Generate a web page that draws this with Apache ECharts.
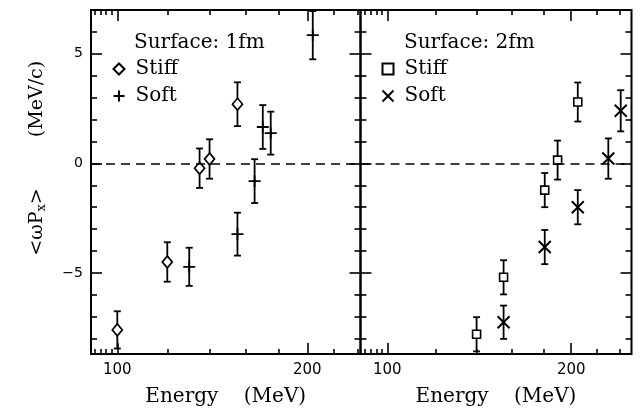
<!DOCTYPE html>
<html>
<head>
<meta charset="utf-8">
<script src="https://cdn.jsdelivr.net/npm/echarts@6/dist/echarts.min.js"></script>
<style>
html,body{margin:0;padding:0;background:#fff;}
#chart{width:642px;height:413px;}
</style>
</head>
<body>
<div id="chart"></div>
<script>
// ---- data: Surface 1fm (left panel) ----
const stiff1X   = [100, 120, 135, 140, 155];
const stiff1Y   = [-7.6, -4.5, -0.22, 0.2, 2.7];
const stiff1Err = [0.85, 0.9, 0.9, 0.9, 1.0];

const soft1X    = [130, 155, 165, 170, 175, 204];
const soft1Y    = [-4.72, -3.23, -0.81, 1.66, 1.38, 5.85];
const soft1Err  = [0.87, 0.98, 1.0, 1.0, 0.98, 1.1];

// ---- data: Surface 2fm (right panel) ----
const stiff2X   = [140, 155, 181, 190, 205];
const stiff2Y   = [-7.8, -5.2, -1.22, 0.15, 2.8];
const stiff2Err = [0.78, 0.78, 0.78, 0.89, 0.89];

const soft2X    = [155, 181, 205, 230, 241];
const soft2Y    = [-7.25, -3.82, -2.0, 0.22, 2.4];
const soft2Err  = [0.76, 0.78, 0.78, 0.92, 0.94];

// ---- axes ----
const xMajorTicks = [100, 200];
const xMinorTicks = [90, 92, 94, 96, 98, 120, 140, 160, 180, 220, 240];
const yMajorTicks = [-5, 0, 5];
const yMinorTicks = [-8, -7, -6, -4, -3, -2, -1, 1, 2, 3, 4, 6];
const xRanges = [[90.85, 242.8], [90.4, 251]];
const yRange = [-8.7, 7.0];

const panelTitles = ['Surface: 1fm', 'Surface: 2fm'];
const xName = 'Energy    (MeV)';

const chart = echarts.init(document.getElementById('chart'), null, {renderer: 'canvas'});

const tickLine = {color: '#000', width: 1.6};
const grids = [
  {left: 91, top: 10, width: 269.5, height: 344, show: true, borderColor: '#000', borderWidth: 2, backgroundColor: 'transparent'},
  {left: 360.5, top: 10, width: 271, height: 344, show: true, borderColor: '#000', borderWidth: 2, backgroundColor: 'transparent'}
];

const xAxes = [];
const yAxes = [];
[0, 1].forEach(g => {
  const [mn, mx] = xRanges[g];
  const base = {type: 'log', logBase: 10, gridIndex: g, min: mn, max: mx,
    axisLine: {show: false, onZero: false}, splitLine: {show: false}, axisPointer: {show: false}};
  xAxes.push(Object.assign({}, base, {
    position: 'bottom',
    axisTick: {show: true, inside: true, length: 5, customValues: xMinorTicks, lineStyle: tickLine},
    axisLabel: {show: true, customValues: xMajorTicks, margin: 9, fontFamily: 'DejaVu Sans', fontSize: 15, color: '#000',
      formatter: v => String(Math.round(v))},
    name: xName, nameLocation: 'middle', nameGap: 33,
    nameTextStyle: {fontFamily: 'DejaVu Serif', fontSize: 20, color: '#000'}
  }));
  xAxes.push(Object.assign({}, base, {
    position: 'bottom',
    axisTick: {show: true, inside: true, length: 11, customValues: xMajorTicks, lineStyle: tickLine},
    axisLabel: {show: false}
  }));
  xAxes.push(Object.assign({}, base, {
    position: 'top',
    axisTick: {show: true, inside: true, length: 5, customValues: xMinorTicks, lineStyle: tickLine},
    axisLabel: {show: false}
  }));
  xAxes.push(Object.assign({}, base, {
    position: 'top',
    axisTick: {show: true, inside: true, length: 11, customValues: xMajorTicks, lineStyle: tickLine},
    axisLabel: {show: false}
  }));

  const ybase = {type: 'value', gridIndex: g, min: yRange[0], max: yRange[1],
    axisLine: {show: false, onZero: false}, splitLine: {show: false}, axisPointer: {show: false}};
  yAxes.push(Object.assign({}, ybase, {
    position: 'left',
    axisTick: {show: true, inside: true, length: 11, customValues: yMajorTicks, lineStyle: tickLine},
    axisLabel: {show: g === 0, customValues: yMajorTicks, margin: 8, fontFamily: 'DejaVu Sans', fontSize: 14, color: '#000',
      formatter: v => (v < 0 ? '\u2212' + (-v) : String(v))}
  }));
  yAxes.push(Object.assign({}, ybase, {
    position: 'left',
    axisTick: {show: true, inside: true, length: 6, customValues: yMinorTicks, lineStyle: tickLine},
    axisLabel: {show: false}
  }));
  yAxes.push(Object.assign({}, ybase, {
    position: 'right',
    axisTick: {show: true, inside: true, length: 11, customValues: yMajorTicks, lineStyle: tickLine},
    axisLabel: {show: false}
  }));
  yAxes.push(Object.assign({}, ybase, {
    position: 'right',
    axisTick: {show: true, inside: true, length: 6, customValues: yMinorTicks, lineStyle: tickLine},
    axisLabel: {show: false}
  }));
});

function errRender(params, api) {
  const x = api.value(0), y = api.value(1), e = api.value(2);
  const top = api.coord([x, y + e]);
  const bot = api.coord([x, y - e]);
  const w = 3.5;
  const style = {stroke: '#000', lineWidth: 1.8, fill: null};
  return {type: 'group', children: [
    {type: 'line', shape: {x1: top[0], y1: top[1], x2: bot[0], y2: bot[1]}, style: style},
    {type: 'line', shape: {x1: top[0] - w, y1: top[1], x2: top[0] + w, y2: top[1]}, style: style},
    {type: 'line', shape: {x1: bot[0] - w, y1: bot[1], x2: bot[0] + w, y2: bot[1]}, style: style}
  ]};
}

function zip3(a, b, c) { return a.map((v, i) => [v, b[i], c[i]]); }
function zip2(a, b) { return a.map((v, i) => [v, b[i]]); }

const PLUS = 'path://M0,5L10,5M5,0L5,10';
const CROSS = 'path://M0,0L10,10M10,0L0,10';

const sets = [
  {name: 'Stiff 1fm', g: 0, x: stiff1X, y: stiff1Y, e: stiff1Err, symbol: 'diamond', size: [10, 12], fill: '#fff', bw: 1.7},
  {name: 'Soft 1fm',  g: 0, x: soft1X,  y: soft1Y,  e: soft1Err,  symbol: PLUS,      size: 12, fill: '#000', bw: 1.8},
  {name: 'Stiff 2fm', g: 1, x: stiff2X, y: stiff2Y, e: stiff2Err, symbol: 'rect',    size: 8,  fill: '#fff', bw: 1.6},
  {name: 'Soft 2fm',  g: 1, x: soft2X,  y: soft2Y,  e: soft2Err,  symbol: CROSS,     size: 12, fill: '#000', bw: 2}
];

const series = [];
sets.forEach((s, i) => {
  series.push({
    type: 'custom', xAxisIndex: s.g * 4, yAxisIndex: s.g * 4,
    data: zip3(s.x, s.y, s.e), encode: {x: 0, y: 1}, renderItem: errRender, clip: true, silent: true, z: 2
  });
  const sc = {
    type: 'scatter', name: s.name, xAxisIndex: s.g * 4, yAxisIndex: s.g * 4,
    data: zip2(s.x, s.y), symbol: s.symbol, symbolSize: s.size,
    itemStyle: {color: s.fill, borderColor: '#000', borderWidth: s.bw, opacity: 1},
    silent: true, z: 3, clip: true
  };
  if (i === 0 || i === 2) {
    sc.markLine = {symbol: 'none', silent: true, label: {show: false},
      lineStyle: {type: [9, 6], color: '#000', width: 1.5}, data: [{yAxis: 0}]};
  }
  series.push(sc);
});

const legendText = {fontFamily: 'DejaVu Serif', fontSize: 20, color: '#000', lineHeight: 20, padding: [0, 0, 0, 6]};
const legends = [
  {data: ['Stiff 1fm', 'Soft 1fm'], left: 112.5, top: 59},
  {data: ['Stiff 2fm', 'Soft 2fm'], left: 381.5, top: 59}
].map(l => Object.assign(l, {
  orient: 'vertical', itemWidth: 11, itemHeight: 11, itemGap: 7, selectedMode: false,
  formatter: n => n.split(' ')[0], textStyle: legendText, padding: 0
}));

const option = {
  animation: false,
  backgroundColor: '#fff',
  grid: grids,
  xAxis: xAxes,
  yAxis: yAxes,
  legend: legends,
  series: series,
  graphic: [
    {type: 'text', x: 134, y: 43, style: {text: panelTitles[0], fontFamily: 'DejaVu Serif', fontSize: 20, fill: '#000', align: 'left', verticalAlign: 'middle'}},
    {type: 'text', x: 404, y: 43, style: {text: panelTitles[1], fontFamily: 'DejaVu Serif', fontSize: 20, fill: '#000', align: 'left', verticalAlign: 'middle'}},
    {type: 'text', x: 37, y: 222, rotation: Math.PI / 2,
      style: {text: '{a|<\u03c9P}{s|x}{a|>}', align: 'center', verticalAlign: 'middle', fill: '#000',
        rich: {a: {fontFamily: 'DejaVu Serif', fontSize: 19, fill: '#000'},
               s: {fontFamily: 'DejaVu Serif', fontSize: 13, fill: '#000', padding: [10, 0, 0, 0]}}}},
    {type: 'text', x: 37, y: 99, rotation: Math.PI / 2,
      style: {text: '(MeV/c)', fontFamily: 'DejaVu Serif', fontSize: 19, fill: '#000', align: 'center', verticalAlign: 'middle'}}
  ]
};
chart.setOption(option);
</script>
</body>
</html>
